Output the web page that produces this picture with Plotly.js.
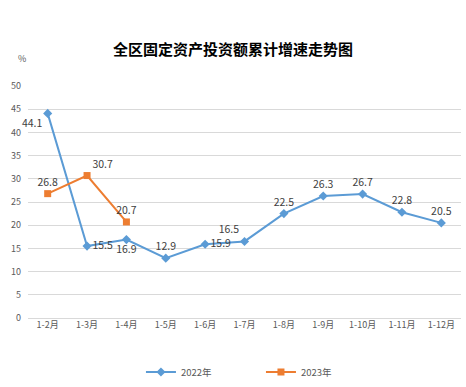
<!DOCTYPE html>
<html>
<head>
<meta charset="utf-8">
<script src="https://cdn.plot.ly/plotly-3.0.1.min.js"></script>
<style>html,body{margin:0;padding:0;background:#fff;}#chart{width:466px;height:387px;}</style>
</head>
<body>
<div id="chart"></div>
<script>
const categories = ["1-2月","1-3月","1-4月","1-5月","1-6月","1-7月","1-8月","1-9月","1-10月","1-11月","1-12月"];
const values2022 = [44.1, 15.5, 16.9, 12.9, 15.9, 16.5, 22.5, 26.3, 26.7, 22.8, 20.5];
const values2023 = [26.8, 30.7, 20.7];
const categories2023 = categories.slice(0, values2023.length);
const pos2022 = ["bottom left","middle right","bottom center","top center","middle right","top left","top center","top center","top center","top center","top center"];
const pos2023 = ["top center","top right","top center"];
const yTicks = [0,5,10,15,20,25,30,35,40,45,50];

const font = "'Microsoft YaHei','Noto Sans CJK SC','Noto Sans',sans-serif";
const traces = [
  {
    x: categories, y: values2022, name: "2022年", type: "scatter", mode: "lines+markers+text",
    line: {color: "#5B9BD5", width: 2},
    marker: {symbol: "diamond", size: 7, color: "#5B9BD5"},
    text: values2022.map(v => v.toFixed(1)), textposition: pos2022,
    textfont: {size: 10.5, color: "#404040", family: font},
    cliponaxis: false
  },
  {
    x: categories2023, y: values2023, name: "2023年", type: "scatter", mode: "lines+markers+text",
    line: {color: "#ED7D31", width: 2},
    marker: {symbol: "square", size: 7, color: "#ED7D31"},
    text: values2023.map(v => v.toFixed(1)), textposition: pos2023,
    textfont: {size: 10.5, color: "#404040", family: font},
    cliponaxis: false
  }
];
const layout = {
  width: 466, height: 387,
  margin: {l: 28, r: 5, t: 86, b: 69},
  paper_bgcolor: "#fff", plot_bgcolor: "#fff",
  font: {family: font, color: "#595959", size: 9},
  title: {text: "<b>全区固定资产投资额累计增速走势图</b>", x: 0.5, xanchor: "center", y: 1 - 50/387, yanchor: "middle", yref: "container",
    font: {size: 15, color: "#000", family: "'Noto Sans CJK SC',sans-serif"}},
  xaxis: {type: "category", range: [-0.5, categories.length - 0.5], showgrid: false, zeroline: false, showline: false, ticks: "",
    tickfont: {size: 9, color: "#595959"}, fixedrange: true, automargin: false},
  yaxis: {range: [0, 50], tickvals: yTicks, showgrid: true, gridcolor: "#D9D9D9", gridwidth: 1,
    zeroline: true, zerolinecolor: "#D9D9D9", zerolinewidth: 1, showline: false, ticks: "",
    ticklabelstandoff: 6, tickfont: {size: 9, color: "#595959"}, fixedrange: true, automargin: false},
  showlegend: true,
  legend: {orientation: "h", xref: "container", yref: "container", x: 0.56, xanchor: "center", y: 1 - 372/387, yanchor: "middle",
    font: {size: 9.5, color: "#595959"}, entrywidth: 75, itemwidth: 30},
  annotations: [{text: "%", xref: "paper", yref: "paper", x: -0.015, y: (318-58)/232, xanchor: "center", yanchor: "middle",
    showarrow: false, font: {size: 9, color: "#595959"}}]
};
Plotly.newPlot("chart", traces, layout, {staticPlot: true, displayModeBar: false});
</script>
</body>
</html>
